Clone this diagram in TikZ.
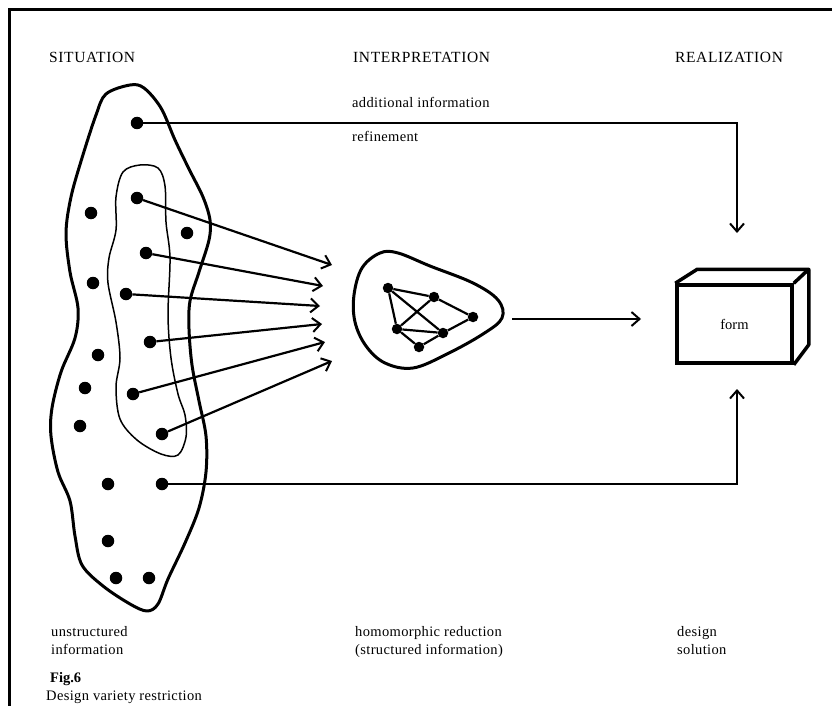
\documentclass[tikz,border=0pt]{standalone}
\usepackage{fontspec}
\setmainfont{Liberation Serif}
\usetikzlibrary{arrows.meta,calc}

\begin{document}
\begin{tikzpicture}[x=1pt,y=-1pt,
  dot/.style={circle,fill=black,inner sep=0pt,minimum size=12.5pt},
  gdot/.style={circle,fill=black,inner sep=0pt,minimum size=10.5pt},
  tip/.style={-{Straight Barb[length=8pt,width=14pt,line width=2pt]}},
  conn/.style={line width=2.2pt,tip},
  edge/.style={line width=2.2pt},
  lbl/.style={anchor=base west,inner sep=0pt,font=\fontsize{14.5}{15}\selectfont\addfontfeature{LetterSpace=2.5}},
  head/.style={anchor=base west,inner sep=0pt,font=\fontsize{15.5}{16}\selectfont\addfontfeature{LetterSpace=4}},
  blob/.style={line width=3pt,line join=round},
  subblob/.style={line width=1.5pt,line join=round},
]
\useasboundingbox (0,0) rectangle (832,706);

% frame (top and left rules)
\draw[line width=3pt] (9,706) -- (9,10) -- (832,10);

% column headings
\node[head] (hsit) at (49,63) {SITUATION};
\node[head] (hint) at (353,63) {INTERPRETATION};
\node[head] (hrea) at (675,63) {REALIZATION};

% notes above the upper connector
\node[lbl] (addinfo) at (352,108) {additional information};
\node[lbl] (refine) at (352,142) {refinement};

% situation: outer field
\draw[blob] plot[smooth cycle,tension=0.55] coordinates {
  (130,85) (106,94) (96,115) (82,158) (71,197) (66,233) (70,272) (78,308)
  (75,338) (61,372) (52,408) (51,436) (58,472) (70,501) (75,536) (82,565)
  (103,586) (130,604) (147,611) (158,604) (168,579) (185,543) (199,508)
  (206,472) (206,436) (199,401) (192,365) (189,329) (190,301) (199,272)
  (209,240) (210,220) (203,197) (189,169) (175,140) (161,108) (144,88)};

% situation: selected sub-field
\draw[subblob] plot[smooth cycle,tension=0.55] coordinates {
  (140,165) (123,172) (116,197) (116,230) (109,258) (108,283) (116,322)
  (120,358) (116,387) (120,419) (137,440) (161,454) (178,455) (186,437)
  (185,415) (178,394) (171,358) (168,315) (170,258) (166,222) (165,186)
  (158,168)};

% elements of the situation
\node[dot] (s0) at (137,123) {};
\node[dot] (s1) at (137,198) {};
\node[dot] (o1) at (91,213) {};
\node[dot] (o2) at (187,233) {};
\node[dot] (s2) at (146,253) {};
\node[dot] (o3) at (93,283) {};
\node[dot] (s3) at (126,294) {};
\node[dot] (s4) at (150,342) {};
\node[dot] (o4) at (98,355) {};
\node[dot] (o5) at (85,388) {};
\node[dot] (s5) at (133,394) {};
\node[dot] (o6) at (80,426) {};
\node[dot] (s6) at (162,434) {};
\node[dot] (o7) at (108,484) {};
\node[dot] (sb) at (162,484) {};
\node[dot] (o8) at (108,541) {};
\node[dot] (o9) at (116,578) {};
\node[dot] (o10) at (149,578) {};

% arrow ends in front of the interpretation
\coordinate (t1) at (332,265);
\coordinate (t2) at (323,286);
\coordinate (t3) at (320,306);
\coordinate (t4) at (322,324);
\coordinate (t5) at (325,342);
\coordinate (t6) at (332,361);
\foreach \i in {1,...,6} \draw[conn] (s\i) -- (t\i);

% interpretation: structured field
\draw[blob] plot[smooth cycle,tension=0.6] coordinates {
  (380,253) (362,268) (354,295) (355,322) (366,346) (385,363) (413,368)
  (447,354) (483,334) (502,318) (498,300) (473,283) (430,266) (398,253)};

\node[gdot] (ga) at (388,288) {};
\node[gdot] (gb) at (434,297) {};
\node[gdot] (gc) at (473,317) {};
\node[gdot] (gd) at (397,329) {};
\node[gdot] (ge) at (443,333) {};
\node[gdot] (gf) at (419,347) {};
\draw[edge] (ga) -- (gb) (ga) -- (gd) (ga) -- (ge) (gb) -- (gd)
            (gb) -- (gc) (gc) -- (ge) (gd) -- (ge) (gd) -- (gf) (gf) -- (ge);

% realization: the form
\node[draw,line width=3.5pt,minimum width=115pt,minimum height=78pt,
      inner sep=0pt,font=\fontsize{14.5}{15}\selectfont] (form) at (734.5,324) {form};
\coordinate (bk1) at ($(form.north west)+(22,-14)$);
\coordinate (bk2) at ($(form.north east)+(15,-14)$);
\coordinate (bk3) at ($(form.south east)+(15,-20)$);
\draw[line width=3.5pt,line join=round] (form.north west) -- (bk1) -- (bk2) -- (form.north east);
\draw[line width=3.5pt,line join=round] (bk2) -- (bk3) -- (form.south east);

% connectors towards the form
\coordinate (mout) at (512,319);
\coordinate (min) at (641,319);
\draw[conn] (mout) -- (min);

\coordinate (rtop) at (737,233);
\coordinate (rbot) at (737,389);
\draw[conn] (s0) -| (rtop);
\draw[conn] (sb) -| (rbot);

% captions under each column
\node[lbl] (u1) at (51,636) {unstructured};
\node[lbl] (u2) at (51,654) {information};
\node[lbl] (h1) at (355,636) {homomorphic reduction};
\node[lbl] (h2) at (355,654) {(structured information)};
\node[lbl] (d1) at (677,636) {design};
\node[lbl] (d2) at (677,654) {solution};

% figure caption
\node[lbl,font=\fontsize{14.5}{15}\selectfont\bfseries] (fig) at (50,682) {Fig.6};
\node[lbl] (cap) at (46,700) {Design variety restriction};
\end{tikzpicture}
\end{document}
